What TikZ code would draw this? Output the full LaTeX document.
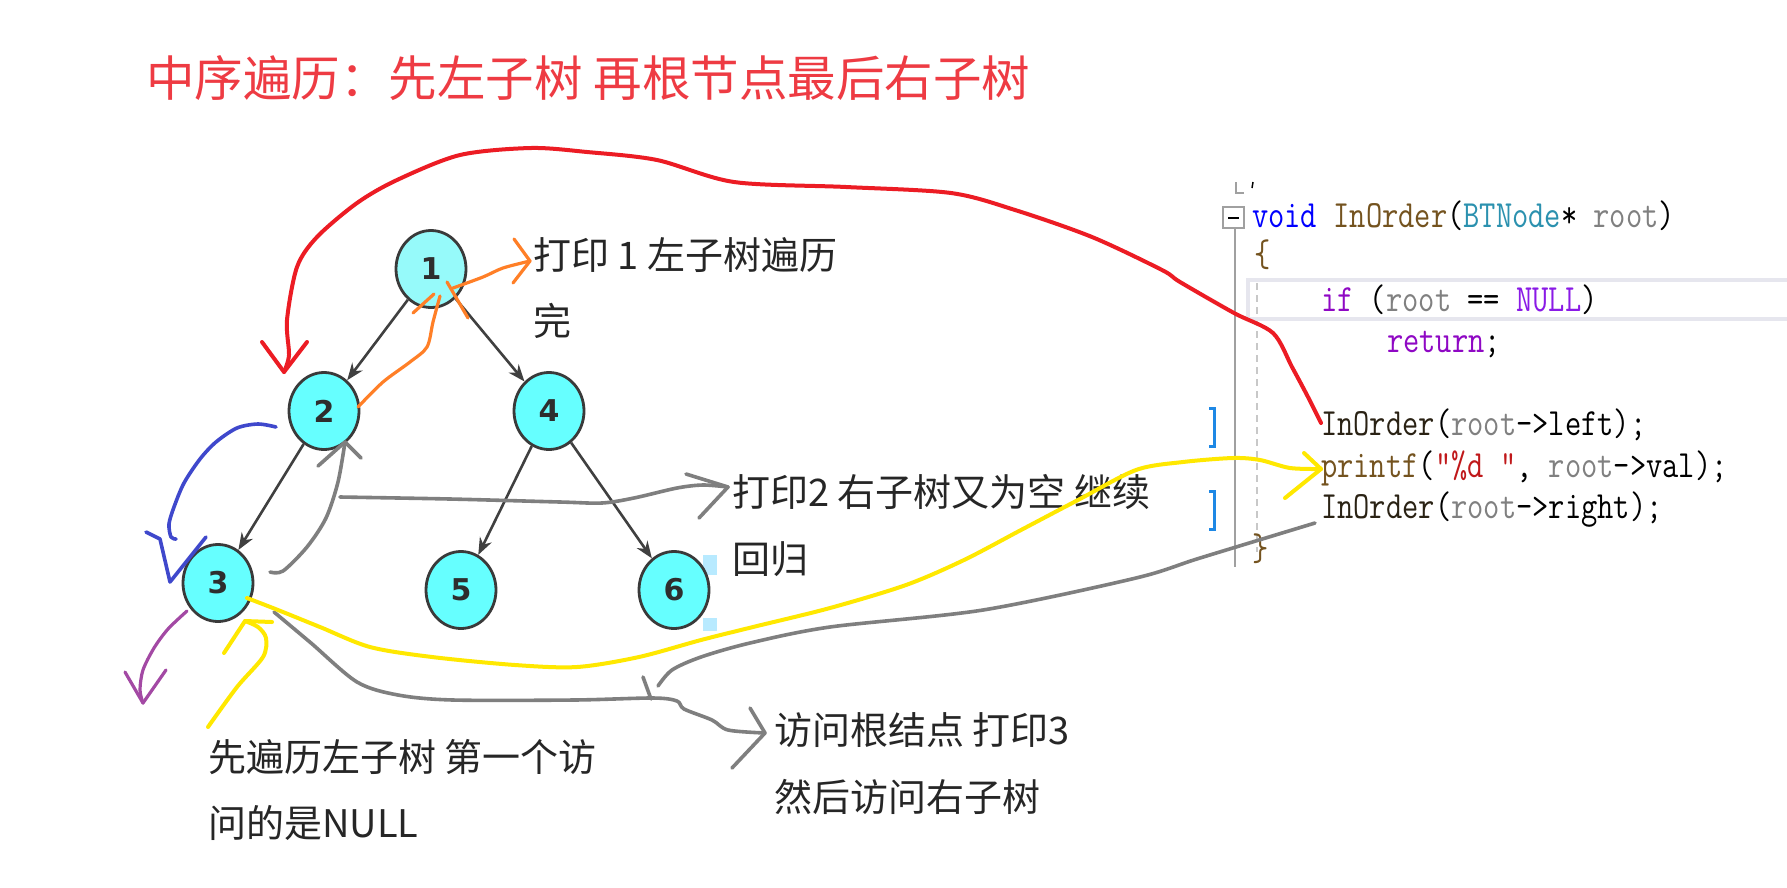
\documentclass[tikz,border=0pt]{standalone}
\usepackage{fontspec}
\usetikzlibrary{shapes.geometric,arrows.meta}
\newfontfamily\cjk{Noto Sans CJK SC}
\newfontfamily\numfont{DejaVu Sans}
\definecolor{titlered}{HTML}{EE3B43}
\definecolor{nodecyan}{HTML}{66FFFF}
\definecolor{cyanlight}{HTML}{96FAFA}
\definecolor{nodeborder}{HTML}{3A3A3A}
\definecolor{numgray}{HTML}{2E2E2E}
\definecolor{edgegray}{HTML}{404040}
\definecolor{labelgray}{HTML}{262626}
\definecolor{inkred}{HTML}{EC1C24}
\definecolor{inkorange}{HTML}{FF7F27}
\definecolor{inkblue}{HTML}{3F48CC}
\definecolor{inkpurple}{HTML}{A349A4}
\definecolor{inkgray}{HTML}{7F7F7F}
\definecolor{inkyellow}{HTML}{FFE800}
\definecolor{kwblue}{HTML}{0000FF}
\definecolor{fnbrown}{HTML}{74531F}
\definecolor{calldark}{HTML}{2A2214}
\definecolor{typeteal}{HTML}{2B91AF}
\definecolor{paramgray}{HTML}{808080}
\definecolor{kwpurple}{HTML}{8F08C4}
\definecolor{macropurple}{HTML}{8A1AE6}
\definecolor{strred}{HTML}{C0181A}
\definecolor{guidegray}{HTML}{A0A0A0}
\definecolor{dashgray}{HTML}{C8C8C8}
\definecolor{hlbox}{HTML}{E6E6EE}
\definecolor{markblue}{HTML}{1E88E5}
\definecolor{handleblue}{HTML}{B8EAFF}
\tikzset{
  tnode/.style={ellipse, draw=nodeborder, line width=2.8, fill=nodecyan,
    minimum width=70, minimum height=77, inner sep=0, text=numgray,
    font=\numfont\bfseries\fontsize{30}{30}\selectfont},
  tedge/.style={draw=edgegray, line width=2.6, -{Stealth[length=17pt,width=13pt]}},
  lbl/.style={anchor=base west, inner sep=0, text=labelgray,
    font=\cjk\fontsize{38}{40}\selectfont},
  codeln/.style={anchor=base west, inner sep=0, text=black,
    font=\ttfamily\fontsize{38.5}{40}\selectfont},
  ink/.style={line cap=round, line join=round},
  redink/.style={ink, draw=inkred, line width=4},
  orangeink/.style={ink, draw=inkorange, line width=3.2},
  blueink/.style={ink, draw=inkblue, line width=3.6},
  purpleink/.style={ink, draw=inkpurple, line width=3.2},
  grayink/.style={ink, draw=inkgray, line width=3.6},
  yellowink/.style={ink, draw=inkyellow, line width=4},
}
\newcommand{\cs}[1]{\scalebox{0.82}[1]{#1}}
\begin{document}
\begin{tikzpicture}[x=1pt,y=-1pt]
\fill[white] (0,0) rectangle (1787,887);
\useasboundingbox (0,0) rectangle (1787,887);

% title
\node[anchor=base west, inner sep=0, text=titlered, font=\cjk\fontsize{48.5}{50}\selectfont] (title) at (146,96) {中序遍历：先左子树 再根节点最后右子树};

% ---------- code panel ----------
\draw[guidegray, line width=1.5] (1236,182) -- (1236,193) -- (1244,193);
\draw[black, line width=1.5] (1253,182) -- (1252,188);
\draw[guidegray, line width=1.5, fill=white] (1223,207) rectangle (1244,228);
\draw[black, line width=2] (1228,217.5) -- (1239,217.5);
\draw[guidegray, line width=2] (1235,228) -- (1235,567);
\draw[dashgray, line width=1.5, dash pattern=on 7pt off 5pt] (1257,283) -- (1257,552);
\draw[hlbox, line width=4] (1787,280) -- (1248,280) -- (1248,319) -- (1787,319);
\draw[markblue, line width=3] (1209,408) -- (1214,408) -- (1214,446) -- (1209,446);
\draw[markblue, line width=3] (1209,491) -- (1214,491) -- (1214,529) -- (1209,529);

\node[codeln] (c1) at (1252,227) {\cs{\textcolor{kwblue}{void} \textcolor{fnbrown}{InOrder}(\textcolor{typeteal}{BTNode}* \textcolor{paramgray}{root})}};
\node[codeln] (c2) at (1254,266) {\cs{\textcolor{fnbrown}{\{}}};
\node[codeln] (c3) at (1321,311) {\cs{\textcolor{kwpurple}{if} (\textcolor{paramgray}{root} == \textcolor{macropurple}{NULL})}};
\node[codeln] (c4) at (1387,352) {\cs{\textcolor{kwpurple}{return};}};
\node[codeln] (c5) at (1321,435) {\cs{\textcolor{calldark}{InOrder}(\textcolor{paramgray}{root}->left);}};
\node[codeln] (c6) at (1321,477) {\cs{\textcolor{fnbrown}{printf}(\textcolor{strred}{"\%d "}, \textcolor{paramgray}{root}->val);}};
\node[codeln] (c7) at (1321,518) {\cs{\textcolor{calldark}{InOrder}(\textcolor{paramgray}{root}->right);}};
\node[codeln] (c8) at (1252,560) {\cs{\textcolor{fnbrown}{\}}}};

% ---------- tree ----------
\fill[handleblue] (703,555) rectangle (717,575);
\fill[handleblue] (703,618) rectangle (717,631);
\node[tnode, fill=cyanlight] (n1) at (431,269) {1};
\node[tnode] (n2) at (324,411) {2};
\node[tnode] (n4) at (549,411) {4};
\node[tnode] (n3) at (218,583) {3};
\node[tnode] (n5) at (461,590) {5};
\node[tnode] (n6) at (674,590) {6};
\draw[tedge] (n1) -- (n2);
\draw[tedge] (n1) -- (n4);
\draw[tedge] (n2) -- (n3);
\draw[tedge] (n4) -- (n5);
\draw[tedge] (n4) -- (n6);

% ---------- labels ----------
\node[lbl] (l1a) at (533,269.5) {打印 1 左子树遍历};
\node[lbl] (l1b) at (533,335.5) {完};
\node[lbl] (l2a) at (732,506) {打印2 右子树又为空 继续};
\node[lbl] (l2b) at (732,573) {回归};
\node[lbl] (l3a) at (774,744) {访问根结点 打印3};
\node[lbl] (l3b) at (774,811) {然后访问右子树};
\node[lbl] (l4a) at (208,771) {先遍历左子树 第一个访};
\node[lbl] (l4b) at (208,837) {问的是NULL};

% ---------- hand-drawn strokes ----------
% red
\coordinate (rS) at (1321,423);
\coordinate (rE) at (284,372);
\draw[redink] plot[smooth, tension=0.5] coordinates {(rS) (1308,397) (1292,367) (1273,333) (1234,313) (1180,282) (1162,270) (1092,237) (1015,210) (951,193) (846,187) (734,182) (657,160) (587,152) (531,148) (460,155) (397,180) (357,203) (317,237) (297,267) (287,320) (289,355) (rE)};
\draw[redink] (262,342) -- (rE) -- (307,342);

% orange
\coordinate (oS) at (358,407);
\coordinate (oT) at (440,296);
\draw[orangeink] plot[smooth, tension=0.5] coordinates {(oS) (383,382) (410,362) (427,347) (433,322) (oT)};
\draw[orangeink] (413,313) -- (434,294);
\draw[orangeink] (447,282) -- (468,318);
\coordinate (o2S) at (453,288);
\coordinate (o2E) at (530,261);
\draw[orangeink] plot[smooth, tension=0.5] coordinates {(o2S) (483,277) (503,268) (o2E)};
\draw[orangeink] (514,239) -- (o2E) -- (513,283);

% blue
\coordinate (bS) at (276,427);
\coordinate (bT) at (170,582);
\draw[blueink] plot[smooth, tension=0.5] coordinates {(bS) (258,424) (237,428) (216,442) (200,459) (184,483) (174,507) (169,524) (171,537) (176,539)};
\draw[blueink] (146,532) -- (160,539) -- (bT) -- (206,537);

% purple
\coordinate (pS) at (187,611);
\coordinate (pT) at (143,703);
\draw[purpleink] plot[smooth, tension=0.5] coordinates {(pS) (168,629) (154,648) (143,670) (140,690) (pT)};
\draw[purpleink] (125,672) -- (pT) -- (166,670);

% gray 1: node 3 back up to node 2
\coordinate (g1S) at (270,572);
\coordinate (g1T) at (345,442);
\draw[grayink] plot[smooth, tension=0.5] coordinates {(g1S) (283,571) (307,547) (326,518) (338,482) (g1T)};
\draw[grayink] (318,466) -- (g1T) -- (361,458);

% gray 2: to label 2
\coordinate (g2S) at (340,497);
\coordinate (g2T) at (728,487);
\draw[grayink] plot[smooth, tension=0.5] coordinates {(g2S) (450,499) (560,502) (602,503) (634,498) (677,488) (703,485) (g2T)};
\draw[grayink] (686,474) -- (g2T) -- (699,518);

% gray 3: node 3 down to label 3
\coordinate (g3S) at (274,612);
\coordinate (g3T) at (765,733);
\draw[grayink] plot[smooth, tension=0.5] coordinates {(g3S) (311,643) (357,682) (398,695) (453,700) (574,700) (653,698) (677,701) (684,709) (712,720) (728,730) (g3T)};
\draw[grayink] (750,708) -- (g3T) -- (732,768);

% gray 4: from code back to the bottom
\coordinate (g4S) at (1315,523);
\coordinate (g4T) at (658,686);
\draw[grayink] plot[smooth, tension=0.5] coordinates {(g4S) (1200,558) (1136,578) (983,610) (830,627) (750,643) (701,657) (672,670) (g4T)};
\draw[grayink] (643,677) -- (651,699);

% yellow 1: node 3 to printf
\coordinate (y1S) at (247,598);
\coordinate (y1T) at (1321,469);
\draw[yellowink] plot[smooth, tension=0.5] coordinates {(y1S) (278,610) (320,627) (370,647) (432,657) (515,665) (577,667) (639,657) (701,640) (753,627) (830,608) (906,585) (964,560) (1021,530) (1078,500) (1136,470) (1183,462) (1233,458) (1260,460) (1290,468) (y1T)};
\draw[yellowink] (1304,453) -- (y1T) -- (1285,498);

% yellow 2: up to node 3
\coordinate (y2S) at (208,727);
\coordinate (y2T) at (245,621);
\draw[yellowink] plot[smooth, tension=0.5] coordinates {(y2S) (237,687) (263,657) (266,638) (258,627) (y2T)};
\draw[yellowink] (272,622) -- (y2T) -- (224,653);
\end{tikzpicture}
\end{document}
